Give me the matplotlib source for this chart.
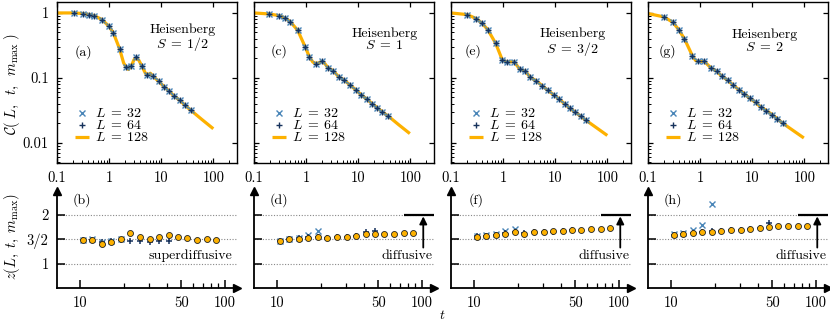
import numpy as np
import matplotlib
matplotlib.use("Agg")
import matplotlib.pyplot as plt
from matplotlib.ticker import FixedLocator, FixedFormatter, NullFormatter

plt.rcParams.update({
    'font.family': 'serif',
    'font.serif': ['cmr10', 'DejaVu Serif'],
    'mathtext.fontset': 'cm',
    'axes.formatter.use_mathtext': True,
    'font.size': 10,
})

# ---------------- top row: C(L, t, m_max) vs t ----------------
spins = ["1/2", "1", "3/2", "2"]
top_labels = ["(a)", "(c)", "(e)", "(g)"]
bot_labels = ["(b)", "(d)", "(f)", "(h)"]

# S = 1/2
t_line_a = [0.1, 0.21, 0.31, 0.42, 0.52, 0.73, 1.0, 1.21, 1.59, 1.9, 2.13, 2.35, 2.69, 3.0, 3.35,
            3.75, 4.29, 5.0, 5.6, 6.2, 6.94, 8.9, 11.4, 14.4, 17.9, 22.9, 28.6, 36.6, 60, 100]
C_line_a = [1.0, 1.0, 0.98, 0.945, 0.91, 0.79, 0.62, 0.49, 0.28, 0.17, 0.145, 0.135, 0.155, 0.19, 0.205,
            0.185, 0.15, 0.117, 0.112, 0.118, 0.106, 0.089, 0.073, 0.062, 0.052, 0.045, 0.038, 0.032, 0.023, 0.0165]
t_pts_a = [0.21, 0.31, 0.42, 0.52, 0.73, 1.0, 1.21, 1.59, 2.13, 2.69, 3.35, 4.29, 5.34, 6.94, 8.9,
           11.4, 14.4, 17.9, 22.9, 28.6, 36.6]
C32_a = [1.0, 0.98, 0.945, 0.91, 0.79, 0.62, 0.49, 0.28, 0.148, 0.155, 0.208, 0.151, 0.111, 0.106, 0.089,
         0.073, 0.062, 0.052, 0.045, 0.038, 0.032]
C64_a = [1.0, 0.98, 0.945, 0.91, 0.79, 0.62, 0.49, 0.28, 0.148, 0.155, 0.208, 0.151, 0.111, 0.106, 0.089,
         0.073, 0.062, 0.052, 0.045, 0.038, 0.032]

# S = 1
t_line_c = [0.1, 0.195, 0.30, 0.39, 0.50, 0.69, 0.96, 1.16, 1.35, 1.56, 1.8, 2.01, 2.3, 2.63, 3.28,
            4.22, 5.28, 6.9, 8.9, 11.4, 14.5, 18.6, 23.3, 29.1, 38, 60, 98]
C_line_c = [1.0, 0.965, 0.91, 0.84, 0.73, 0.54, 0.30, 0.21, 0.175, 0.166, 0.172, 0.18, 0.165, 0.143, 0.13,
            0.104, 0.094, 0.078, 0.066, 0.055, 0.0475, 0.040, 0.0346, 0.030, 0.0257, 0.019, 0.0139]
t_pts_c = [0.195, 0.30, 0.39, 0.50, 0.69, 0.96, 1.16, 1.56, 2.01, 2.63, 3.28, 4.22, 5.28, 6.9, 8.9,
           11.4, 14.5, 18.6, 23.3, 29.1, 38]
C32_c = [0.965, 0.91, 0.84, 0.73, 0.54, 0.30, 0.21, 0.166, 0.18, 0.143, 0.13, 0.104, 0.094, 0.078, 0.066,
         0.055, 0.0475, 0.040, 0.0346, 0.030, 0.0257]
C64_c = [0.965, 0.91, 0.84, 0.73, 0.54, 0.30, 0.21, 0.166, 0.18, 0.143, 0.13, 0.104, 0.094, 0.078, 0.066,
         0.055, 0.0475, 0.040, 0.0346, 0.030, 0.0257]

# S = 3/2
t_line_e = [0.1, 0.204, 0.305, 0.398, 0.51, 0.72, 0.97, 1.21, 1.63, 2.07, 2.67, 3.33, 4.35, 5.6, 7.2,
            9.3, 11.8, 15.1, 19.2, 24.4, 30.9, 38.6, 100]
C_line_e = [1.0, 0.943, 0.82, 0.69, 0.55, 0.34, 0.187, 0.176, 0.178, 0.137, 0.127, 0.102, 0.090, 0.076, 0.0646,
            0.055, 0.0475, 0.040, 0.034, 0.0296, 0.0257, 0.0224, 0.013]
t_pts_e = [0.204, 0.305, 0.398, 0.51, 0.72, 0.97, 1.21, 1.63, 2.07, 2.67, 3.33, 4.35, 5.6, 7.2,
           9.3, 11.8, 15.1, 19.2, 24.4, 30.9, 38.6]
C32_e = [0.943, 0.82, 0.69, 0.55, 0.34, 0.187, 0.176, 0.178, 0.137, 0.127, 0.102, 0.090, 0.076, 0.0646,
         0.055, 0.0475, 0.040, 0.034, 0.0296, 0.0257, 0.0224]
C64_e = [0.943, 0.82, 0.69, 0.55, 0.34, 0.187, 0.176, 0.178, 0.137, 0.127, 0.102, 0.090, 0.076, 0.0646,
         0.055, 0.0475, 0.040, 0.034, 0.0296, 0.0257, 0.0224]

# S = 2
t_line_g = [0.1, 0.20, 0.30, 0.39, 0.50, 0.71, 0.82, 0.93, 1.2, 1.61, 2.07, 2.63, 3.38, 4.35, 5.5,
            7.1, 8.9, 11.6, 14.5, 18.7, 24, 30.5, 39, 98]
C_line_g = [0.98, 0.87, 0.72, 0.55, 0.40, 0.22, 0.185, 0.18, 0.18, 0.143, 0.127, 0.106, 0.092, 0.077, 0.066,
            0.0567, 0.0486, 0.042, 0.0358, 0.0314, 0.0273, 0.0234, 0.0199, 0.0119]
t_pts_g = [0.20, 0.30, 0.39, 0.50, 0.71, 0.93, 1.2, 1.61, 2.07, 2.63, 3.38, 4.35, 5.5,
           7.1, 8.9, 11.6, 14.5, 18.7, 24, 30.5, 39]
C32_g = [0.87, 0.72, 0.55, 0.40, 0.22, 0.18, 0.18, 0.143, 0.127, 0.106, 0.092, 0.077, 0.066,
         0.0567, 0.0486, 0.042, 0.0358, 0.0314, 0.0273, 0.0234, 0.0199]
C64_g = [0.87, 0.72, 0.55, 0.40, 0.22, 0.18, 0.18, 0.143, 0.127, 0.106, 0.092, 0.077, 0.066,
         0.0567, 0.0486, 0.042, 0.0358, 0.0314, 0.0273, 0.0234, 0.0199]

# ---------------- bottom row: z(L, t, m_max) vs t ----------------
t_z = [10.4, 12.1, 14.1, 16.4, 19.0, 22.1, 25.8, 30.2, 35.0, 41.0, 47.6, 55.0, 64.5, 75.0, 86.5]

z128_b = [1.48, 1.49, 1.41, 1.45, 1.50, 1.62, 1.54, 1.51, 1.54, 1.58, 1.54, 1.53, 1.49, 1.50, 1.49]
z32_b = [1.49, 1.50, 1.44, 1.47, 1.50]
z64_b = [1.48, 1.49, 1.45, 1.47, 1.49, 1.46, 1.47, 1.45, 1.46, 1.47]

z128_d = [1.47, 1.50, 1.51, 1.53, 1.55, 1.53, 1.55, 1.55, 1.57, 1.60, 1.60, 1.60, 1.60, 1.62, 1.63]
z32_d = [1.47, 1.51, 1.53, 1.59, 1.67]
z64_d = [1.47, 1.51, 1.52, 1.54, 1.55, 1.53, 1.55, 1.55, 1.57, 1.65, 1.67]

z128_f = [1.555, 1.57, 1.59, 1.615, 1.64, 1.615, 1.64, 1.65, 1.665, 1.67, 1.685, 1.69, 1.705, 1.72, 1.735]
z32_f = [1.57, 1.58, 1.60, 1.67, 1.72]
z64_f = [1.56, 1.57, 1.59, 1.62, 1.64, 1.62, 1.64, 1.65, 1.66, 1.67, 1.685]

z128_h = [1.59, 1.61, 1.625, 1.64, 1.66, 1.67, 1.69, 1.70, 1.715, 1.73, 1.755, 1.765, 1.765, 1.77, 1.775]
z32_h = [1.60, 1.62, 1.69, 1.80, 2.23]
z64_h = [1.59, 1.61, 1.63, 1.645, 1.665, 1.68, 1.69, 1.70, 1.715, 1.73, 1.83]

top_data = [
    (t_line_a, C_line_a, t_pts_a, C32_a, C64_a),
    (t_line_c, C_line_c, t_pts_c, C32_c, C64_c),
    (t_line_e, C_line_e, t_pts_e, C32_e, C64_e),
    (t_line_g, C_line_g, t_pts_g, C32_g, C64_g),
]
bot_data = [
    (z128_b, z32_b, z64_b),
    (z128_d, z32_d, z64_d),
    (z128_f, z32_f, z64_f),
    (z128_h, z32_h, z64_h),
]

c_orange = "#FDB100"
c_l32 = "#4A86B8"
c_l64 = "#16325C"

# per-panel text positions (axes fraction)
lab_pos = [(0.145, 0.685), (0.138, 0.69), (0.122, 0.69), (0.11, 0.69)]
heis_pos = [(0.697, 0.772), (0.725, 0.762), (0.675, 0.745), (0.648, 0.755)]

W, H = 830, 322
fig = plt.figure(figsize=(W / 100, H / 100), dpi=100)
lefts = [57, 254, 451, 648]
aw = 180

for i in range(4):
    x0 = lefts[i] / W
    axt = fig.add_axes([x0, 1 - 163 / H, aw / W, 161.5 / H])
    axb = fig.add_axes([x0, 1 - 288 / H, aw / W, 97.4 / H])

    tl, Cl, tp, C32, C64 = top_data[i]
    l128, = axt.plot(tl, Cl, color=c_orange, lw=2.3, zorder=2, solid_capstyle='butt')
    l32, = axt.plot(tp, C32, ls='none', marker='x', ms=3.9, mew=1.0, color=c_l32, zorder=3)
    l64, = axt.plot(tp, C64, ls='none', marker='+', ms=4.6, mew=1.0, color=c_l64, zorder=4)
    axt.set_xscale('log')
    axt.set_yscale('log')
    axt.set_xlim(0.1, 285)
    axt.set_ylim(0.0049, 1.5)
    axt.xaxis.set_major_locator(FixedLocator([0.1, 1, 10, 100]))
    axt.xaxis.set_major_formatter(FixedFormatter(["0.1", "1", "10", "100"]))
    axt.xaxis.set_minor_locator(FixedLocator([k * 10.0 ** e for e in (-1, 0, 1, 2) for k in range(2, 10)]))
    axt.xaxis.set_minor_formatter(NullFormatter())
    axt.yaxis.set_major_locator(FixedLocator([0.01, 0.1, 1]))
    if i == 0:
        axt.yaxis.set_major_formatter(FixedFormatter(["0.01", "0.1", "1"]))
    else:
        axt.yaxis.set_major_formatter(NullFormatter())
    axt.yaxis.set_minor_locator(FixedLocator([k * 10.0 ** e for e in (-3, -2, -1, 0) for k in range(2, 10)]))
    axt.yaxis.set_minor_formatter(NullFormatter())
    axt.tick_params(which='both', direction='in', top=True, right=True, labelsize=10.5)
    axt.tick_params(which='major', length=3.6, width=0.9, pad=6)
    axt.tick_params(which='minor', length=2.0, width=0.7, top=False, right=False)
    for sp in axt.spines.values():
        sp.set_linewidth(1.0)

    axt.text(*lab_pos[i], top_labels[i], transform=axt.transAxes, ha='center', va='center', fontsize=10)
    axt.text(*heis_pos[i], "Heisenberg\n" + r"$S\;=\;%s$" % spins[i], transform=axt.transAxes,
             ha='center', va='center', multialignment='center', linespacing=0.95, fontsize=10)

    axt.legend([l32, l64, l128], [r"$L\;=\;32$", r"$L\;=\;64$", r"$L\;=\;128$"],
               loc='lower left', bbox_to_anchor=(0.1, 0.115), frameon=False, borderpad=0,
               borderaxespad=0, handlelength=1.0, handletextpad=0.45, labelspacing=-0.07,
               numpoints=1, fontsize=10)

    # bottom panel
    z128, z32, z64 = bot_data[i]
    axb.set_xscale('log')
    axb.set_xlim(6.9, 121)
    axb.set_ylim(0.5, 2.5)
    for zl in (1.0, 1.5, 2.0):
        axb.axhline(zl, color='#888888', ls=(0, (1, 1.5)), lw=0.8, zorder=1)
    axb.plot(t_z[:len(z32)], z32, ls='none', marker='x', ms=4.2, mew=1.0, color=c_l32, zorder=3)
    axb.plot(t_z[:len(z64)], z64, ls='none', marker='+', ms=5, mew=1.1, color=c_l64, zorder=4)
    axb.plot(t_z, z128, ls='none', marker='o', ms=4.3, mfc=c_orange, mec='#222222', mew=0.6, zorder=5)

    axb.spines['top'].set_visible(False)
    axb.spines['right'].set_visible(False)
    axb.spines['left'].set_linewidth(1.3)
    axb.spines['bottom'].set_linewidth(1.3)
    axb.plot(1, 0, '>k', ms=6, transform=axb.transAxes, clip_on=False, zorder=6)
    axb.plot(0, 1, '^k', ms=6, transform=axb.transAxes, clip_on=False, zorder=6)

    axb.xaxis.set_major_locator(FixedLocator([10, 50, 100]))
    axb.xaxis.set_major_formatter(FixedFormatter(["10", "50", "100"]))
    axb.xaxis.set_minor_locator(FixedLocator([20, 30, 40, 60, 70, 80, 90]))
    axb.xaxis.set_minor_formatter(NullFormatter())
    axb.yaxis.set_major_locator(FixedLocator([1, 1.5, 2]))
    if i == 0:
        axb.yaxis.set_major_formatter(FixedFormatter(["1", "3/2", "2"]))
    else:
        axb.yaxis.set_major_formatter(NullFormatter())
    axb.yaxis.set_minor_locator(FixedLocator([]))
    axb.tick_params(which='both', direction='in', labelsize=10.5)
    axb.tick_params(which='major', length=5.5, width=1.1, pad=6)
    axb.tick_params(which='minor', length=3.5, width=0.9)

    axb.text(0.14, 0.9, bot_labels[i], transform=axb.transAxes, ha='center', va='center', fontsize=10)
    if i == 0:
        axb.text(58, 1.17, "superdiffusive", ha='center', va='center', fontsize=10)
    else:
        axb.plot([75, 121], [2.0, 2.0], color='k', lw=1.6, clip_on=False, zorder=6, solid_capstyle='butt')
        axb.annotate("", xy=(102, 1.97), xytext=(102, 1.33),
                     arrowprops=dict(arrowstyle='-|>', color='k', lw=1.3, mutation_scale=11,
                                     shrinkA=0, shrinkB=0))
        axb.text(79, 1.16, "diffusive", ha='center', va='center', fontsize=10)

fig.text(12 / W, 1 - 84 / H, r"$\mathcal{C}(\;L,\;\;t,\;\;m_{\max}\;)$", rotation=90,
         ha='center', va='center', fontsize=10.5)
fig.text(12 / W, 1 - 237 / H, r"$z(L,\;t,\;m_{\max})$", rotation=90, ha='center', va='center', fontsize=10.5)
fig.text(442 / W, 1 - 315.5 / H, r"$t$", ha='center', va='center', fontsize=10)

fig.savefig("out.png", dpi=100)
